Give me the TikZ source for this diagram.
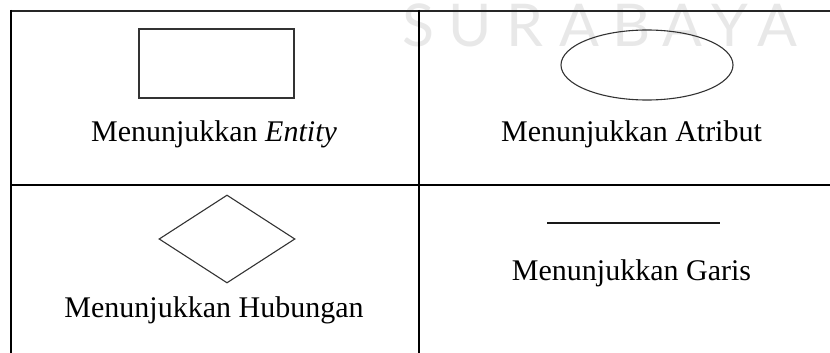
\documentclass[tikz,border=0pt]{standalone}
\usepackage{fontspec}
\setmainfont{Liberation Serif}
\newfontfamily\markfont{Lato}
\usetikzlibrary{shapes.geometric}
\begin{document}
\begin{tikzpicture}[x=1pt,y=-1pt,
  gridline/.style={line width=2pt,draw=black!85},
  symbolshape/.style={draw=black!80,line width=1.1pt,inner sep=0pt,fill=none},
  caption/.style={anchor=base,inner sep=0pt,font=\fontsize{30}{36}\selectfont},
  markletter/.style={anchor=base,inner sep=0pt,text=black!9,font=\markfont\fontsize{59}{60}\selectfont}]
\useasboundingbox (0,0) rectangle (830,353);

% faint lettering behind the table
\foreach \lx/\ch [count=\i] in {418.5/S,470/U,524.5/R,579.5/A,632/B,682.5/A,730/Y,777.5/A}
  \node[markletter] (mark\i) at (\lx,47) {\ch};

% table rules
\coordinate (tl) at (10,11);
\coordinate (tr) at (830,11);
\draw[gridline] (tl) -- (tr);
\draw[gridline,draw=black] (11,10) -- (11,353);
\draw[gridline,draw=black] (419,10) -- (419,353);
\draw[gridline,draw=black] (10,185) -- (830,185);

% entity
\node[symbolshape,rectangle,minimum width=155pt,minimum height=69pt] (entity) at (216.5,63.5) {};
\node[caption] (entitytxt) at (214,141) {Menunjukkan \textit{Entity}};

% attribute
\node[symbolshape,ellipse,minimum width=172pt,minimum height=70pt] (attr) at (647,65) {};
\node[caption] (attrtxt) at (631.5,141) {Menunjukkan Atribut};

% relationship
\node[symbolshape,diamond,minimum width=136pt,minimum height=88pt] (rel) at (227,239) {};
\node[caption] (reltxt) at (214,317) {Menunjukkan Hubungan};

% line
\coordinate (lineA) at (547,223);
\coordinate (lineB) at (720,223);
\draw[line width=1.5pt,black!90] (lineA) -- (lineB);
\node[caption] (linetxt) at (631.5,280) {Menunjukkan Garis};
\end{tikzpicture}
\end{document}
